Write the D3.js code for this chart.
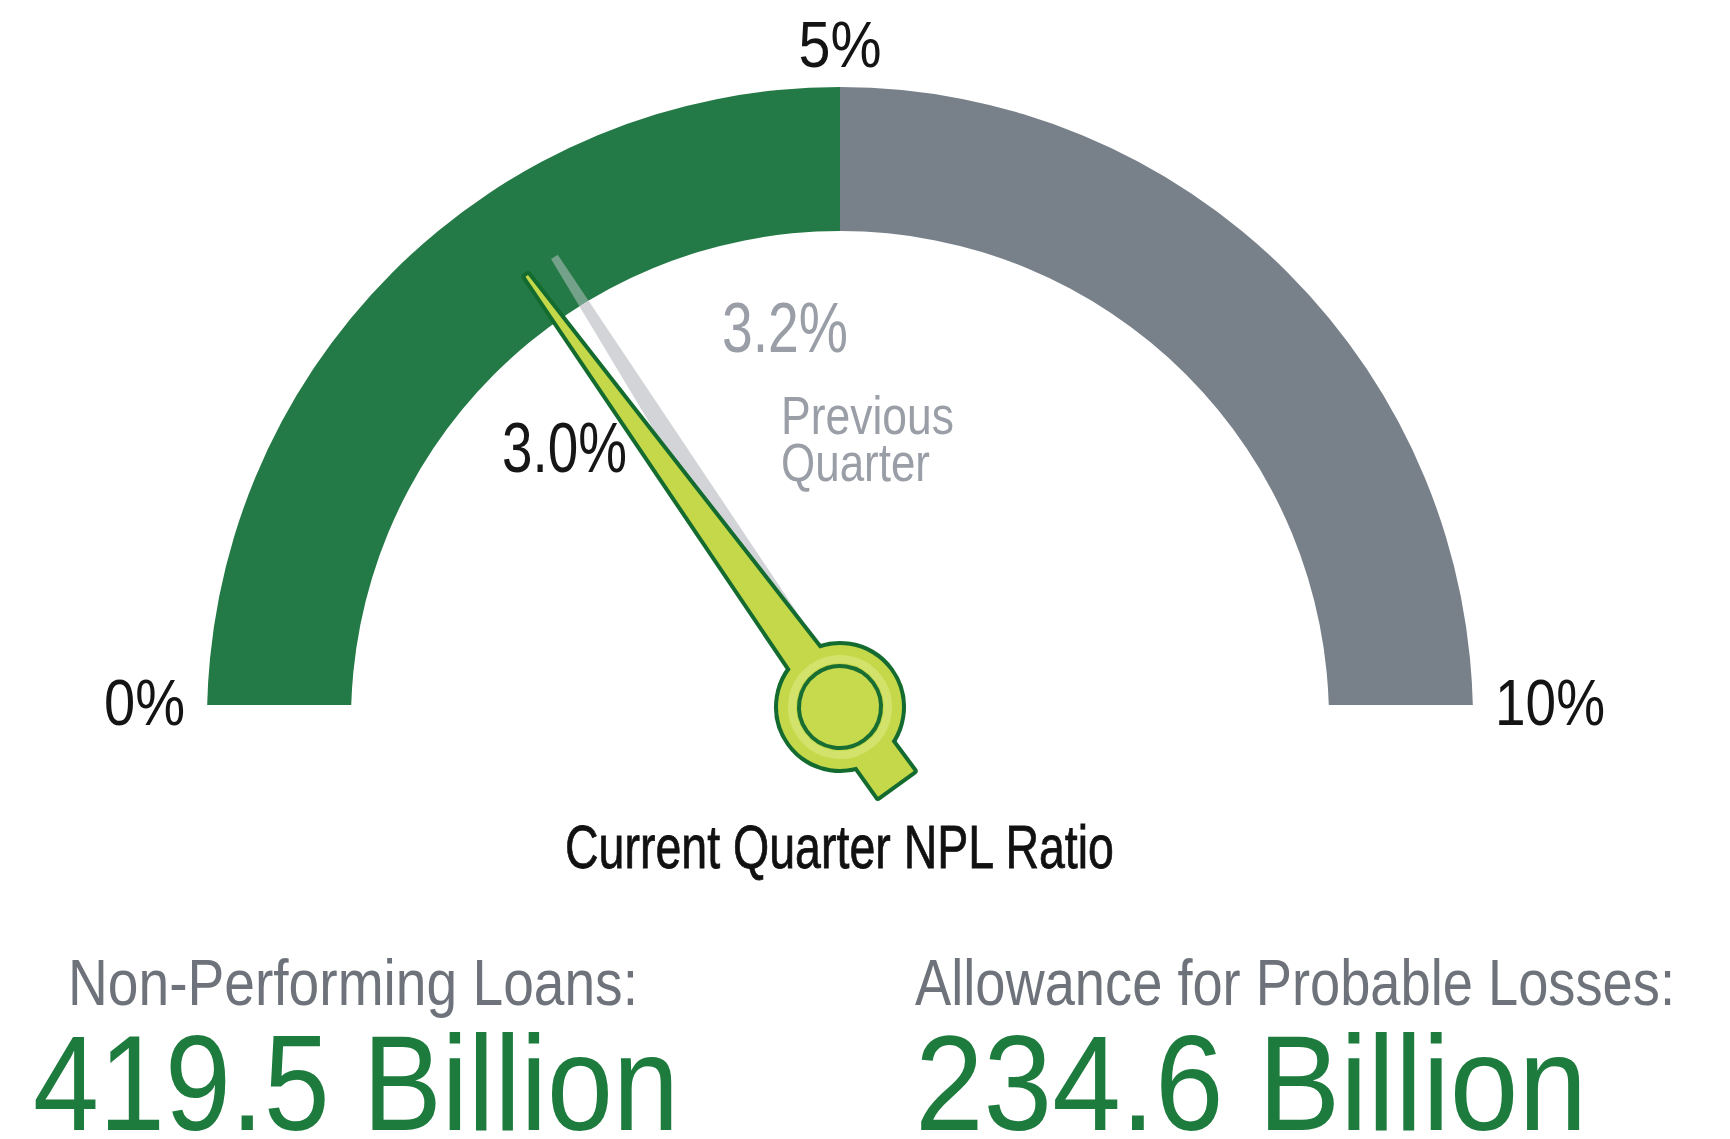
<!DOCTYPE html>
<html>
<head>
<meta charset="utf-8">
<script src="https://cdn.jsdelivr.net/npm/d3@7"></script>
<style>
  html, body { margin: 0; padding: 0; background: #ffffff; }
  svg { display: block; }
  text { font-family: "Liberation Sans Narrow", "Liberation Sans", Arial, sans-serif; }
</style>
</head>
<body>
<svg id="chart" width="1730" height="1139"></svg>
<script>
// ---- data ----
const gaugeTicks = [0, 5, 10];
const gaugeTickLabels = ["0%", "5%", "10%"];
const bandStops = [0, 5, 10];
const bandColors = ["#247a46", "#78818a"];
const previousValue = 3.2;
const currentValue = 3.0;
const previousCaption = ["Previous", "Quarter"];
const currentCaption = "Current Quarter NPL Ratio";
const statTitles = ["Non-Performing Loans:", "Allowance for Probable Losses:"];
const statValues = [419.5, 234.6];
const statUnit = "Billion";

// ---- layout ----
const W = 1730, H = 1139;
const cx = 840, cy = 720;          // arc centre
const px = 840, py = 707;          // needle pivot
const R = 633, r = 489;
const needleLen = 533;
const bandBottom = 705;

const svg = d3.select("#chart");
const defs = svg.append("defs");

const angle = d3.scaleLinear().domain([0, 10]).range([-Math.PI / 2, Math.PI / 2]);
const deg = a => a * 180 / Math.PI;
const pct = d3.format(".1f");

defs.append("clipPath").attr("id", "bandClip")
  .append("rect").attr("x", 0).attr("y", 0).attr("width", W).attr("height", bandBottom);

// band region (for translucent previous needle)
const arcGen = d3.arc().innerRadius(r).outerRadius(R)
  .startAngle(d => angle(d[0])).endAngle(d => angle(d[1]));

defs.append("clipPath").attr("id", "overBand")
  .append("path").attr("transform", `translate(${cx},${cy})`)
  .attr("d", arcGen([0, 10]));
defs.append("clipPath").attr("id", "insideBand")
  .append("circle").attr("cx", cx).attr("cy", cy).attr("r", r);

// ---- bands ----
const bandPairs = d3.pairs(bandStops);
svg.append("g").attr("clip-path", "url(#bandClip)")
  .append("g").attr("transform", `translate(${cx},${cy})`)
  .selectAll("path").data(bandPairs).join("path")
  .attr("d", d => arcGen(d))
  .attr("fill", (d, i) => bandColors[i]);

// ---- tick labels ----
svg.append("g").selectAll("text").data(gaugeTicks).join("text")
  .attr("x", d => cx + (R + 22) * Math.sin(angle(d)))
  .attr("y", d => {
    const y = cy - (R + 22) * Math.cos(angle(d));
    return d === 5 ? y + 2 : y + 5;
  })
  .attr("text-anchor", d => angle(d) < -0.01 ? "end" : (angle(d) > 0.01 ? "start" : "middle"))
  .attr("font-size", 64)
  .attr("fill", "#141414")
  .attr("textLength", (d, i) => [81, 83, 110][i])
  .attr("lengthAdjust", "spacingAndGlyphs")
  .text((d, i) => gaugeTickLabels[i]);

// ---- previous needle ----
const prevShape = "M-4,-533 L4,-533 L16,-40 L-16,-40 Z";
const prevG = svg.append("g");
prevG.append("g").attr("clip-path", "url(#insideBand)")
  .append("path")
  .attr("transform", `translate(${px},${py}) rotate(${deg(angle(previousValue))})`)
  .attr("d", prevShape).attr("fill", "#d2d4d7");
prevG.append("g").attr("clip-path", "url(#overBand)")
  .append("path")
  .attr("transform", `translate(${px},${py}) rotate(${deg(angle(previousValue))})`)
  .attr("d", prevShape).attr("fill", "#c4c8cc").attr("opacity", 0.5);

// ---- current needle ----
const needleShape = "M-1.5,-533 L1.5,-533 L18,-55 L-18,-55 Z";
const tailShape = "M-21,0 L21,0 L22,95 L-22,95 Z";
const hubR = 62;
const outlineCol = "#146b30";
const fillCol = "#c5d84a";

const needleG = svg.append("g")
  .attr("transform", `translate(${px},${py}) rotate(${deg(angle(currentValue))})`);
const parts = [
  { type: "path", d: needleShape },
  { type: "path", d: tailShape },
  { type: "circle" }
];
function drawParts(g, stroke) {
  parts.forEach(p => {
    let el;
    if (p.type === "path") el = g.append("path").attr("d", p.d);
    else el = g.append("circle").attr("r", hubR);
    el.attr("fill", fillCol);
    if (stroke) el.attr("stroke", outlineCol).attr("stroke-width", 8).attr("stroke-linejoin", "round");
  });
}
drawParts(needleG.append("g"), true);
drawParts(needleG.append("g"), false);
needleG.append("circle").attr("r", 48).attr("fill", "none")
  .attr("stroke", "#d3e26a").attr("stroke-width", 8);
needleG.append("circle").attr("r", 41).attr("fill", "#c7d94d")
  .attr("stroke", "#176d32").attr("stroke-width", 4);

// ---- value labels ----
svg.append("text")
  .attr("x", 722).attr("y", 352)
  .attr("font-size", 70).attr("fill", "#9a9ea6")
  .attr("textLength", 126).attr("lengthAdjust", "spacingAndGlyphs")
  .text(pct(previousValue) + "%");

svg.append("g").selectAll("text").data(previousCaption).join("text")
  .attr("x", 781)
  .attr("y", (d, i) => 434 + i * 47)
  .attr("font-size", 53).attr("fill", "#9a9ea6")
  .attr("textLength", (d, i) => [173, 149][i]).attr("lengthAdjust", "spacingAndGlyphs")
  .text(d => d);

svg.append("text")
  .attr("x", 502).attr("y", 472)
  .attr("font-size", 70).attr("fill", "#161616")
  .attr("textLength", 125).attr("lengthAdjust", "spacingAndGlyphs")
  .text(pct(currentValue) + "%");

svg.append("text")
  .attr("x", 565).attr("y", 868)
  .attr("font-size", 62).attr("fill", "#111111")
  .attr("stroke", "#111111").attr("stroke-width", 0.8)
  .attr("textLength", 549).attr("lengthAdjust", "spacingAndGlyphs")
  .text(currentCaption);

// ---- stats ----
const statX = [68, 915];
const statValX = [33, 915];
const titleW = [570, 760];
const valW = [646, 672];

svg.append("g").selectAll("text").data(statTitles).join("text")
  .attr("x", (d, i) => statX[i]).attr("y", 1005)
  .attr("font-size", 64).attr("fill", "#6e737b")
  .attr("textLength", (d, i) => titleW[i]).attr("lengthAdjust", "spacingAndGlyphs")
  .text(d => d);

svg.append("g").selectAll("text").data(statValues).join("text")
  .attr("x", (d, i) => statValX[i]).attr("y", 1130)
  .attr("font-size", 135).attr("fill", "#1e7b3e")
  .attr("textLength", (d, i) => valW[i]).attr("lengthAdjust", "spacingAndGlyphs")
  .text(d => pct(d) + " " + statUnit);
</script>
</body>
</html>
